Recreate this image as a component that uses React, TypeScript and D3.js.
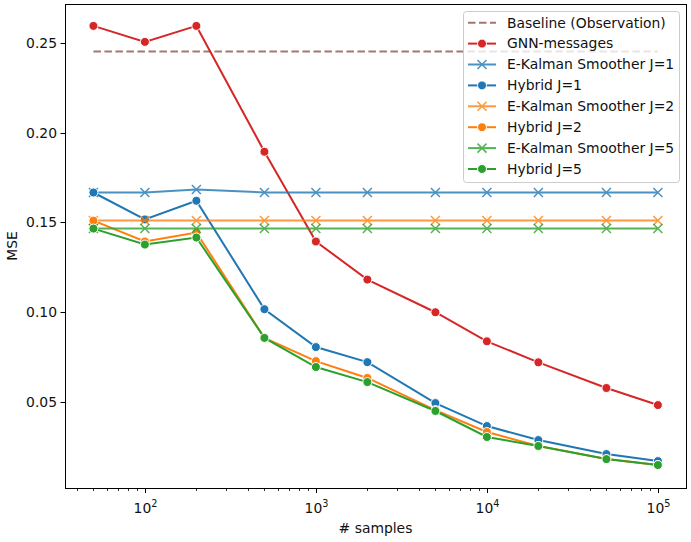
import React, { useEffect, useRef } from 'react';
import * as d3 from 'd3';

const samples = [50, 100, 200, 500, 1000, 2000, 5000, 10000, 20000, 50000, 100000];
const baseline = [0.2452, 0.2452, 0.2452, 0.2452, 0.2452, 0.2452, 0.2452, 0.2452, 0.2452, 0.2452, 0.2452];
const gnnMessages = [0.2595, 0.2506, 0.2595, 0.1894, 0.1394, 0.1182, 0.1, 0.0838, 0.0721, 0.0578, 0.0483];
const ekfJ1 = [0.1667, 0.1667, 0.1684, 0.1667, 0.1667, 0.1667, 0.1667, 0.1667, 0.1667, 0.1667, 0.1667];
const hybridJ1 = [0.1667, 0.1517, 0.1621, 0.1017, 0.0806, 0.0722, 0.0494, 0.0366, 0.0288, 0.021, 0.0171];
const ekfJ2 = [0.1511, 0.1511, 0.1511, 0.1511, 0.1511, 0.1511, 0.1511, 0.1511, 0.1511, 0.1511, 0.1511];
const hybridJ2 = [0.151, 0.1394, 0.1444, 0.0857, 0.0728, 0.0634, 0.0455, 0.0333, 0.0255, 0.0182, 0.0149];
const ekfJ5 = [0.1466, 0.1466, 0.1466, 0.1466, 0.1466, 0.1466, 0.1466, 0.1466, 0.1466, 0.1466, 0.1466];
const hybridJ5 = [0.1466, 0.1377, 0.1416, 0.0857, 0.0695, 0.0611, 0.045, 0.0305, 0.0255, 0.0182, 0.0149];
const yTicks = [0.05, 0.1, 0.15, 0.2, 0.25];
const xTicks = [100, 1000, 10000, 100000];

interface Series {
  name: string;
  values: number[];
  color: string;
  marker: 'none' | 'dot' | 'x';
  dashed?: boolean;
  opacity?: number;
}

const series: Series[] = [
  { name: 'Baseline (Observation)', values: baseline, color: '#8c564b', marker: 'none', dashed: true, opacity: 0.8 },
  { name: 'GNN-messages', values: gnnMessages, color: '#d62728', marker: 'dot' },
  { name: 'E-Kalman Smoother J=1', values: ekfJ1, color: '#1f77b4', marker: 'x', opacity: 0.8 },
  { name: 'Hybrid J=1', values: hybridJ1, color: '#1f77b4', marker: 'dot' },
  { name: 'E-Kalman Smoother J=2', values: ekfJ2, color: '#ff7f0e', marker: 'x', opacity: 0.8 },
  { name: 'Hybrid J=2', values: hybridJ2, color: '#ff7f0e', marker: 'dot' },
  { name: 'E-Kalman Smoother J=5', values: ekfJ5, color: '#2ca02c', marker: 'x', opacity: 0.8 },
  { name: 'Hybrid J=5', values: hybridJ5, color: '#2ca02c', marker: 'dot' },
];

const W = 691;
const H = 542;
const FONT = 'DejaVu Sans, sans-serif';
const FS = 13.9;

export default function App() {
  const ref = useRef<SVGSVGElement>(null);

  useEffect(() => {
    if (!ref.current) return;
    const svg = d3.select(ref.current);
    svg.selectAll('*').remove();

    const left = 65, right = 686, top = 4, bottom = 488;

    const x = d3.scaleLog().domain([34.1, 146000]).range([left, right]);
    const y = d3.scaleLinear().domain([0.0021, 0.2717]).range([bottom, top]);

    svg.append('rect').attr('width', W).attr('height', H).attr('fill', 'white');

    const line = d3.line<number>()
      .x((_, i) => x(samples[i]))
      .y(d => y(d));

    const xPath = (cx: number, cy: number, r: number) =>
      `M${cx - r},${cy - r}L${cx + r},${cy + r}M${cx - r},${cy + r}L${cx + r},${cy - r}`;

    series.forEach(s => {
      const g = svg.append('g').attr('opacity', s.opacity ?? 1);
      g.append('path')
        .datum(s.values)
        .attr('fill', 'none')
        .attr('stroke', s.color)
        .attr('stroke-width', 2)
        .attr('stroke-dasharray', s.dashed ? '7.5,3.5' : null)
        .attr('d', line);
      if (s.marker === 'dot') {
        g.selectAll('circle.m')
          .data(s.values)
          .join('circle')
          .attr('class', 'm')
          .attr('cx', (_, i) => x(samples[i]))
          .attr('cy', d => y(d))
          .attr('r', 4.5)
          .attr('fill', s.color)
          .attr('stroke', 'white')
          .attr('stroke-width', 1);
      } else if (s.marker === 'x') {
        g.selectAll('path.m')
          .data(s.values)
          .join('path')
          .attr('class', 'm')
          .attr('d', (d, i) => xPath(x(samples[i]), y(d), 4.5))
          .attr('stroke', s.color)
          .attr('stroke-width', 1.5);
      }
    });

    // axes frame
    svg.append('rect')
      .attr('x', left + 0.5).attr('y', top + 0.5)
      .attr('width', right - left).attr('height', bottom - top)
      .attr('fill', 'none').attr('stroke', 'black').attr('stroke-width', 1);

    // y ticks
    const yg = svg.append('g');
    yTicks.forEach(t => {
      const py = Math.round(y(t)) + 0.5;
      yg.append('line').attr('x1', left - 4.5).attr('x2', left).attr('y1', py).attr('y2', py)
        .attr('stroke', 'black');
      yg.append('text').attr('x', left - 8).attr('y', py).attr('dy', '0.35em')
        .attr('text-anchor', 'end').attr('font-family', FONT).attr('font-size', FS)
        .attr('fill', '#111').text(t.toFixed(2));
    });

    // x ticks (log, with minor ticks)
    const xg = svg.append('g');
    const minor: number[] = [];
    for (let e = 1; e <= 5; e++) {
      for (let m = 2; m <= 9; m++) {
        const v = m * Math.pow(10, e);
        if (v > 34.1 && v < 146000) minor.push(v);
      }
    }
    minor.forEach(v => {
      const px = Math.round(x(v)) + 0.5;
      xg.append('line').attr('x1', px).attr('x2', px).attr('y1', bottom).attr('y2', bottom + 3)
        .attr('stroke', 'black').attr('stroke-width', 0.8);
    });
    xTicks.forEach(v => {
      const px = Math.round(x(v)) + 0.5;
      xg.append('line').attr('x1', px).attr('x2', px).attr('y1', bottom).attr('y2', bottom + 5)
        .attr('stroke', 'black');
      const t = xg.append('text').attr('x', px).attr('y', bottom + 25)
        .attr('text-anchor', 'middle').attr('font-family', FONT).attr('font-size', FS).attr('fill', '#111');
      t.append('tspan').text('10');
      t.append('tspan').attr('dy', -6).attr('font-size', 9.7).text(String(Math.round(Math.log10(v))));
    });

    // axis labels
    svg.append('text').attr('x', (left + right) / 2).attr('y', 533)
      .attr('text-anchor', 'middle').attr('font-family', FONT).attr('font-size', FS)
      .attr('fill', '#111').text('# samples');
    svg.append('text').attr('transform', `translate(17,${(top + bottom) / 2}) rotate(-90)`)
      .attr('text-anchor', 'middle').attr('font-family', FONT).attr('font-size', FS)
      .attr('fill', '#111').text('MSE');

    // legend
    const lg = svg.append('g');
    lg.append('rect').attr('x', 463.5).attr('y', 11.5).attr('width', 216).attr('height', 171)
      .attr('rx', 3).attr('fill', 'white').attr('fill-opacity', 0.8)
      .attr('stroke', '#ccc').attr('stroke-width', 1);
    series.forEach((s, i) => {
      const cy = 22.7 + i * 20.9;
      const g = lg.append('g').attr('opacity', s.opacity ?? 1);
      g.append('line').attr('x1', 468).attr('x2', 496).attr('y1', cy).attr('y2', cy)
        .attr('stroke', s.color).attr('stroke-width', 2)
        .attr('stroke-dasharray', s.dashed ? '7.5,3.5' : null);
      if (s.marker === 'dot') {
        g.append('circle').attr('cx', 482).attr('cy', cy).attr('r', 4.5)
          .attr('fill', s.color).attr('stroke', 'white').attr('stroke-width', 1);
      } else if (s.marker === 'x') {
        g.append('path').attr('d', xPath(482, cy, 4.5))
          .attr('stroke', s.color).attr('stroke-width', 1.5);
      }
      lg.append('text').attr('x', 507).attr('y', cy).attr('dy', '0.35em')
        .attr('font-family', FONT).attr('font-size', FS).attr('fill', '#111').text(s.name);
    });
  }, []);

  return (
    <div style={{ position: 'absolute', left: 0, top: 0 }}>
      <svg ref={ref} width={W} height={H} style={{ display: 'block' }} />
    </div>
  );
}
